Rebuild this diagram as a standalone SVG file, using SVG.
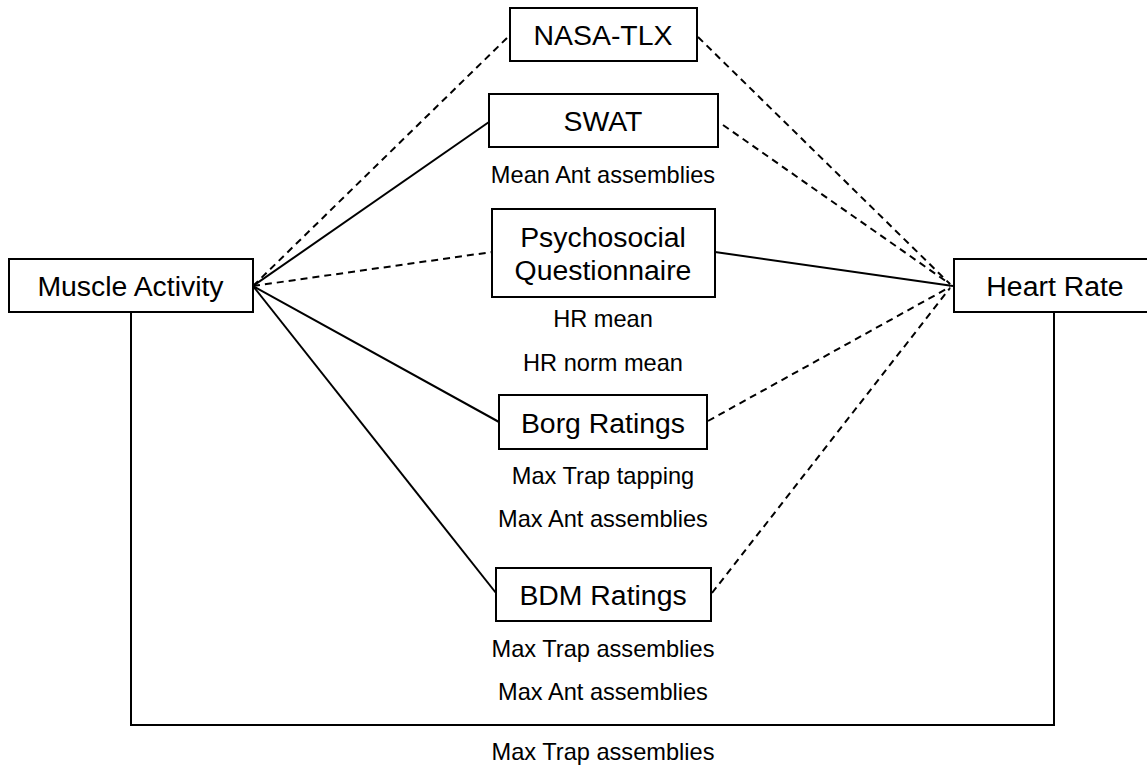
<svg xmlns="http://www.w3.org/2000/svg" width="1147" height="780" viewBox="0 0 1147 780">
<style>
.box{fill:#fff;stroke:#000;stroke-width:2}
.big{font-family:"Liberation Sans",Arial,sans-serif;font-size:28.4px;fill:#000;text-anchor:middle}
.small{font-family:"Liberation Sans",Arial,sans-serif;font-size:23.6px;fill:#000;text-anchor:middle}
.solid{fill:none;stroke:#000;stroke-width:2}
.dash{fill:none;stroke:#000;stroke-width:2;stroke-dasharray:7,5}
</style>
<rect width="1147" height="780" fill="#fff"/>
<g id="connectors">
<polyline class="solid" points="131,312 131,725 1054,725 1054,312"/>
<line class="dash" x1="253" y1="286" x2="509" y2="36"/>
<line class="solid" x1="253" y1="286" x2="489" y2="122"/>
<line class="dash" x1="253" y1="286" x2="492" y2="252"/>
<line class="solid" x1="253" y1="286" x2="499" y2="422"/>
<line class="solid" x1="253" y1="286" x2="496" y2="593"/>
<line class="dash" x1="698" y1="37" x2="950" y2="284"/>
<line class="dash" x1="723" y1="125" x2="950" y2="284"/>
<line class="solid" x1="715" y1="252" x2="953" y2="286"/>
<line class="dash" x1="708" y1="421" x2="950" y2="287"/>
<line class="dash" x1="712" y1="593" x2="950" y2="288"/>
</g>
<g id="muscle-activity">
<rect class="box" x="9" y="259" width="244" height="53"/>
<text class="big" x="130.5" y="296">Muscle Activity</text>
</g>
<g id="heart-rate">
<rect class="box" x="954" y="259" width="202" height="53"/>
<text class="big" x="1055" y="296">Heart Rate</text>
</g>
<g id="nasa-tlx">
<rect class="box" x="510" y="8" width="187" height="53"/>
<text class="big" x="603" y="45">NASA-TLX</text>
</g>
<g id="swat">
<rect class="box" x="489" y="94" width="229" height="53"/>
<text class="big" x="603" y="131">SWAT</text>
<text class="small" x="603" y="183">Mean Ant assemblies</text>
</g>
<g id="psychosocial">
<rect class="box" x="492" y="209" width="223" height="88"/>
<text class="big" x="603" y="247">Psychosocial</text>
<text class="big" x="603" y="280">Questionnaire</text>
<text class="small" x="603" y="327">HR mean</text>
<text class="small" x="603" y="371">HR norm mean</text>
</g>
<g id="borg">
<rect class="box" x="499" y="395" width="208" height="54"/>
<text class="big" x="603" y="433">Borg Ratings</text>
<text class="small" x="603" y="484">Max Trap tapping</text>
<text class="small" x="603" y="527">Max Ant assemblies</text>
</g>
<g id="bdm">
<rect class="box" x="496" y="568" width="215" height="53"/>
<text class="big" x="603" y="605">BDM Ratings</text>
<text class="small" x="603" y="657">Max Trap assemblies</text>
<text class="small" x="603" y="700">Max Ant assemblies</text>
</g>
<text class="small" x="603" y="760">Max Trap assemblies</text>
</svg>
